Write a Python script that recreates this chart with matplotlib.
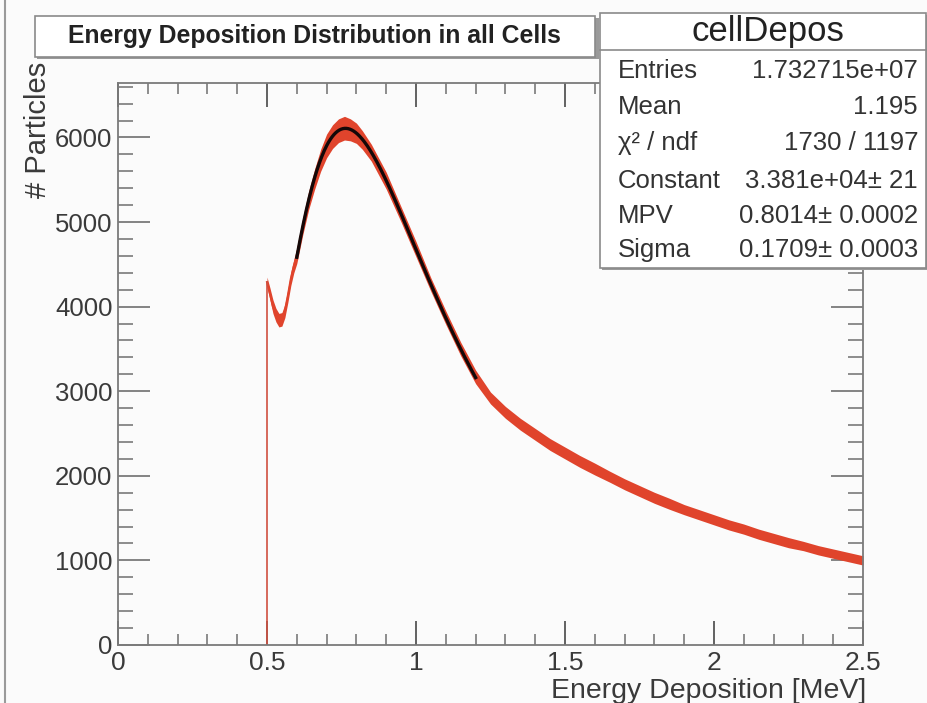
import numpy as np
import matplotlib
matplotlib.use("Agg")
import matplotlib.pyplot as plt
from matplotlib.patches import Rectangle
from matplotlib.lines import Line2D
from matplotlib.ticker import MultipleLocator

plt.rcParams['font.family'] = ['Liberation Sans', 'DejaVu Sans']

# histogram contents (counts per bin), read at coarse energy steps
energy = [0.50, 0.51, 0.52, 0.53, 0.54, 0.55, 0.56, 0.57, 0.58, 0.59,
          0.60, 0.62, 0.64, 0.66, 0.68, 0.70, 0.72, 0.74, 0.76, 0.78,
          0.80, 0.82, 0.85, 0.90, 0.95, 1.00, 1.05, 1.10, 1.15, 1.20,
          1.25, 1.30, 1.35, 1.40, 1.45, 1.50, 1.55, 1.60, 1.65, 1.70,
          1.75, 1.80, 1.85, 1.90, 1.95, 2.00, 2.05, 2.10, 2.15, 2.20,
          2.25, 2.30, 2.35, 2.40, 2.45, 2.50]
counts = [4290, 4150, 4000, 3900, 3840, 3850, 3950, 4130, 4330, 4480,
          4600, 4950, 5260, 5510, 5730, 5900, 6010, 6080, 6110, 6090,
          6050, 5970, 5820, 5490, 5090, 4680, 4260, 3870, 3500, 3170,
          2920, 2750, 2610, 2490, 2370, 2270, 2170, 2080, 1990, 1900,
          1820, 1740, 1670, 1600, 1540, 1480, 1420, 1370, 1310, 1260,
          1210, 1170, 1120, 1080, 1040, 1000]
# bin-to-bin fluctuation (half width of the noisy band)
fluct = [60, 70, 80, 80, 80, 80, 80, 80, 80, 80,
         90, 100, 110, 120, 130, 140, 140, 140, 140, 130,
         120, 110, 100, 100, 90, 90, 80, 80, 80, 80,
         70, 70, 70, 70, 70, 70, 70, 70, 65, 65,
         65, 65, 65, 60, 60, 60, 60, 60, 60, 60,
         60, 55, 55, 55, 55, 55]

# Landau fit results
fit_const = 3.381e4
fit_mpv = 0.8014
fit_sigma = 0.1709
fit_range = (0.6, 1.2)

x_ticks = [0, 0.5, 1, 1.5, 2, 2.5]
x_ticklabels = ["0", "0.5", "1", "1.5", "2", "2.5"]
y_ticks = [0, 1000, 2000, 3000, 4000, 5000, 6000]

stats_labels = ["Entries", "Mean", "χ² / ndf", "Constant", "MPV", "Sigma"]
stats_values = ["1.732715e+07", "1.195", "1730 / 1197", "3.381e+04± 21",
                "0.8014± 0.0002", "0.1709± 0.0003"]

W, H = 927, 703


def landau(lam):
    # phi(l) = 1/pi * int_0^inf exp(-t ln t - l t) sin(pi t) dt
    t = np.linspace(1e-9, 40, 40001)
    lam = np.atleast_1d(lam)[:, None]
    f = np.exp(-t * np.log(t) - lam * t) * np.sin(np.pi * t)
    return np.trapezoid(f, t, axis=1) / np.pi


def fx(px):
    return px / W


def fy(py):
    return 1 - py / H


fig = plt.figure(figsize=(W / 100, H / 100), dpi=100, facecolor='#fbfbfb')
ax = fig.add_axes([fx(118), fy(645), fx(863) - fx(118), fy(82.5) - fy(645)])
ax.set_facecolor('#fbfbfb')

x = np.array(energy)
y = np.array(counts)
dy = np.array(fluct)
red = '#e0442c'
ax.fill_between(x, y - dy, y + dy, color=red, lw=0, zorder=2)
ax.plot(x, y, color=red, lw=1.5, zorder=2)
ax.plot([x[0], x[0]], [0, y[0]], color='#d05040', lw=1.2, zorder=2)

xf = np.linspace(fit_range[0], fit_range[1], 300)
yf = fit_const * landau((xf - fit_mpv) / fit_sigma)
ax.plot(xf, yf, color='#140808', lw=2.4, zorder=3)

ax.set_xlim(0, 2.5)
ax.set_ylim(0, 6650)
ax.xaxis.set_minor_locator(MultipleLocator(0.1))
ax.yaxis.set_minor_locator(MultipleLocator(200))
ax.set_xticks(x_ticks)
ax.set_xticklabels(x_ticklabels)
ax.set_yticks(y_ticks)
ax.set_yticklabels([str(v) for v in y_ticks])

axis_col = '#7a7a7a'
for s in ax.spines.values():
    s.set_color(axis_col)
    s.set_linewidth(1.3)
ax.tick_params(axis='x', which='major', direction='in', length=17, width=1.3,
               color='#555555', top=True, labelsize=19, labelcolor='#3a3a3a', pad=4)
ax.tick_params(axis='x', which='minor', direction='in', length=8, width=1.2,
               color=axis_col, top=True)
ax.tick_params(axis='y', which='major', direction='in', length=23, width=1.3,
               color=axis_col, right=True, labelsize=18.5, labelcolor='#3a3a3a', pad=4)
ax.tick_params(axis='y', which='minor', direction='in', length=11, width=1.2,
               color=axis_col, right=True)

fig.text(fx(866), fy(691), "Energy Deposition [MeV]", ha='right', va='center',
         fontsize=20.5, color='#3a3a3a')
fig.text(fx(38), fy(62), "# Particles", ha='center', va='top', rotation=90,
         fontsize=21, color='#3a3a3a')

# left edge of the canvas window
fig.add_artist(Line2D([fx(5), fx(5)], [0, 1], color='#9a9a9a', lw=1.5))

# title box
fig.add_artist(Rectangle((fx(37), fy(59)), fx(597) - fx(35), fy(16) - fy(57),
                         facecolor='#9a9a9a', edgecolor='none'))
fig.add_artist(Rectangle((fx(35), fy(57)), fx(595) - fx(35), fy(16) - fy(57),
                         facecolor='white', edgecolor='#8a8a8a', lw=1.2))
fig.text(fx(314), fy(36), "Energy Deposition Distribution in all Cells",
         ha='center', va='center', fontsize=17.8, fontweight='bold', color='#222222')

# statistics box
fig.add_artist(Rectangle((fx(602), fy(270)), fx(927) - fx(600), fy(13) - fy(268),
                         facecolor='#9a9a9a', edgecolor='none'))
fig.add_artist(Rectangle((fx(600), fy(268)), fx(926) - fx(600), fy(13) - fy(268),
                         facecolor='white', edgecolor='#8a8a8a', lw=1.2))
fig.add_artist(Line2D([fx(600), fx(926)], [fy(50), fy(50)], color='#8a8a8a', lw=1.2))
fig.text(fx(768), fy(31), "cellDepos", ha='center', va='center',
         fontsize=25, color='#222222')
row_y = [71, 107, 143, 181, 216, 250]
for lab, val, ry in zip(stats_labels, stats_values, row_y):
    fig.text(fx(618), fy(ry), lab, ha='left', va='center', fontsize=18.5, color='#333333')
    fig.text(fx(918), fy(ry), val, ha='right', va='center', fontsize=18.5, color='#333333')

fig.savefig("out.png", dpi=100, facecolor=fig.get_facecolor())
